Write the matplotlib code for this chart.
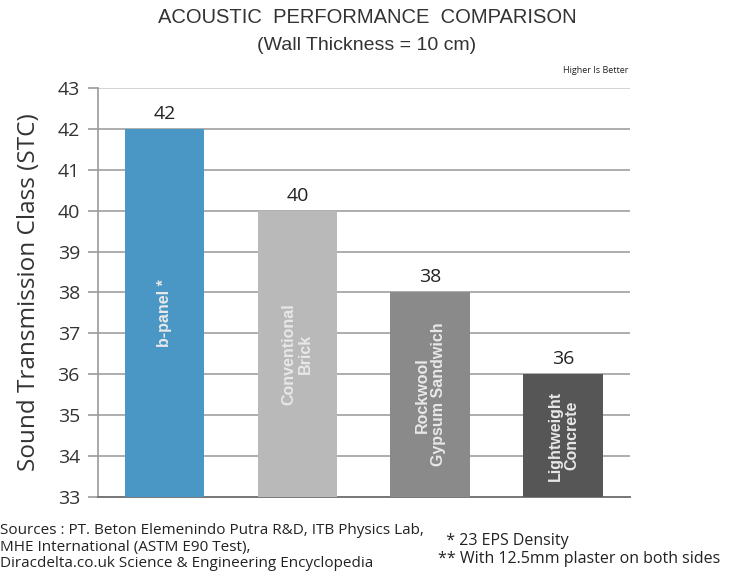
import matplotlib.pyplot as plt
import numpy as np

materials = ['b-panel *', 'Conventional\nBrick', 'Rockwool\nGypsum Sandwich', 'Lightweight\nConcrete']
stc_values = [42, 40, 38, 36]
bar_colors = ['#4a97c6', '#b9b9b9', '#8a8a8a', '#565656']
y_ticks = list(range(33, 44))

fig = plt.figure(figsize=(7.34, 5.79), dpi=100)
ax = fig.add_axes([0.1335, 0.1418, 0.7245, 0.7063])

x = np.arange(len(materials))
ax.bar(x, [v - 33 for v in stc_values], bottom=33, width=0.6, color=bar_colors, zorder=3)

ax.set_xlim(-0.5, 3.5)
ax.set_ylim(33, 43)
ax.set_yticks(y_ticks)
ax.set_yticklabels([str(t) for t in y_ticks], fontsize=14, family='Open Sans', color='#333333')
ax.set_xticks([])
ax.grid(axis='y', color='#a0a0a0', linewidth=1.2, zorder=0)
ax.tick_params(axis='y', length=7, color='#999999', width=1.2, pad=6)
# top grid line is lighter in the original
ax.get_ygridlines()[-1].set_color('#cccccc')

for s in ['top', 'right']:
    ax.spines[s].set_visible(False)
ax.spines['left'].set_color('#999999')
ax.spines['left'].set_linewidth(1.2)
ax.spines['bottom'].set_color('#777777')
ax.spines['bottom'].set_linewidth(1.4)

ax.set_ylabel('Sound Transmission Class (STC)', fontsize=17.5, family='Open Sans', color='#333333')
ax.yaxis.set_label_coords(-0.108, 0.5)

for xi, v, name in zip(x, stc_values, materials):
    ax.text(xi, v + 0.15, str(v), ha='center', va='bottom', fontsize=14, family='Open Sans', color='#222222')
    ax.text(xi, 33 + (v - 33) / 2, name, ha='center', va='center', rotation=90,
            fontsize=11.5, fontweight='bold', family='Liberation Sans', color='#e8e8e8', linespacing=1.1)

fig.text(0.5, 0.969, 'ACOUSTIC  PERFORMANCE  COMPARISON', ha='center', va='center',
         fontsize=14.5, family='Liberation Sans', color='#333333')
fig.text(0.5, 0.922, '(Wall Thickness = 10 cm)', ha='center', va='center',
         fontsize=14, family='Liberation Sans', color='#333333')
fig.text(0.856, 0.879, 'Higher Is Better', ha='right', va='center', fontsize=6.5,
         family='Open Sans', color='#222222')

fig.text(0.0, 0.055, 'Sources : PT. Beton Elemenindo Putra R&D, ITB Physics Lab,\n'
         'MHE International (ASTM E90 Test),\n'
         'Diracdelta.co.uk Science & Engineering Encyclopedia',
         ha='left', va='center', fontsize=11, family='Open Sans', color='#222222', linespacing=1.12)
fig.text(0.597, 0.05, '  * 23 EPS Density\n** With 12.5mm plaster on both sides',
         ha='left', va='center', fontsize=11.5, family='Open Sans', color='#222222', linespacing=1.2)

fig.savefig('out.png', dpi=100)
